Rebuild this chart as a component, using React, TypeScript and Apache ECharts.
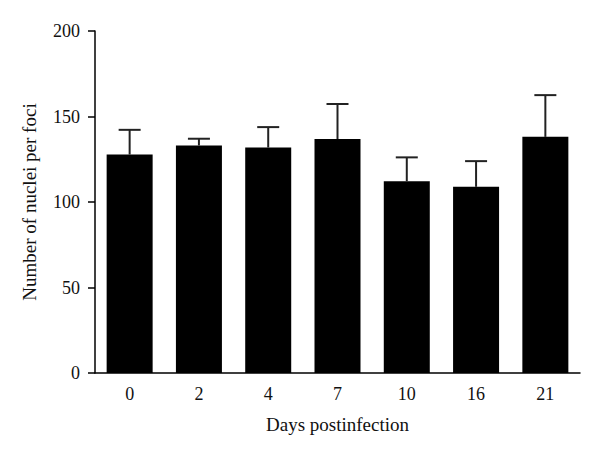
import React, { useEffect, useRef } from "react";
import * as echarts from "echarts";

const categories = ["0", "2", "4", "7", "10", "16", "21"];
const means = [127.8, 133.1, 131.9, 136.8, 112.2, 108.9, 138.1];
const errors = [14.4, 3.9, 11.9, 20.5, 13.9, 15.0, 24.4];
const yTicks = [0, 50, 100, 150, 200];

const FONT = "'Liberation Serif', 'DejaVu Serif', serif";

export default function App() {
  const ref = useRef<HTMLDivElement>(null);
  useEffect(() => {
    if (!ref.current) return;
    const chart = echarts.init(ref.current, undefined, { renderer: "svg" });
    chart.setOption({
      animation: false,
      backgroundColor: "#fff",
      grid: { left: 95, right: 20, top: 31, bottom: 83, containLabel: false },
      xAxis: {
        type: "category",
        data: categories,
        name: "Days postinfection",
        nameLocation: "middle",
        nameGap: 42,
        nameTextStyle: { fontFamily: FONT, fontSize: 19, color: "#111" },
        axisLine: { lineStyle: { color: "#000", width: 1.5 } },
        axisTick: { alignWithLabel: true, length: 5, lineStyle: { color: "#000", width: 1.5 } },
        axisLabel: { fontFamily: FONT, fontSize: 18, color: "#111", margin: 12 },
      },
      yAxis: {
        type: "value",
        min: yTicks[0],
        max: yTicks[yTicks.length - 1],
        interval: 50,
        name: "Number of nuclei per foci",
        nameLocation: "middle",
        nameGap: 56,
        nameTextStyle: { fontFamily: FONT, fontSize: 19, color: "#111" },
        axisLine: { show: true, lineStyle: { color: "#000", width: 1.5 } },
        axisTick: { show: true, length: 7, lineStyle: { color: "#000", width: 1.5 } },
        axisLabel: { fontFamily: FONT, fontSize: 18, color: "#111", margin: 15 },
        splitLine: { show: false },
      },
      series: [
        {
          type: "bar",
          data: means,
          barWidth: 46,
          itemStyle: { color: "#000" },
          z: 2,
        },
        {
          type: "custom",
          data: means.map((m, i) => [i, m, m + errors[i]]),
          z: 1,
          renderItem: (params: any, api: any) => {
            const i = api.value(0);
            const lo = api.coord([i, api.value(1)]);
            const hi = api.coord([i, api.value(2)]);
            const half = 11;
            const style = { stroke: "#222", lineWidth: 2 };
            return {
              type: "group",
              children: [
                { type: "line", shape: { x1: lo[0], y1: lo[1], x2: hi[0], y2: hi[1] }, style },
                { type: "line", shape: { x1: hi[0] - half, y1: hi[1], x2: hi[0] + half, y2: hi[1] }, style },
              ],
            };
          },
        },
      ],
    });
    return () => chart.dispose();
  }, []);
  return <div ref={ref} style={{ width: 600, height: 456, position: "absolute", left: 0, top: 0 }} />;
}
